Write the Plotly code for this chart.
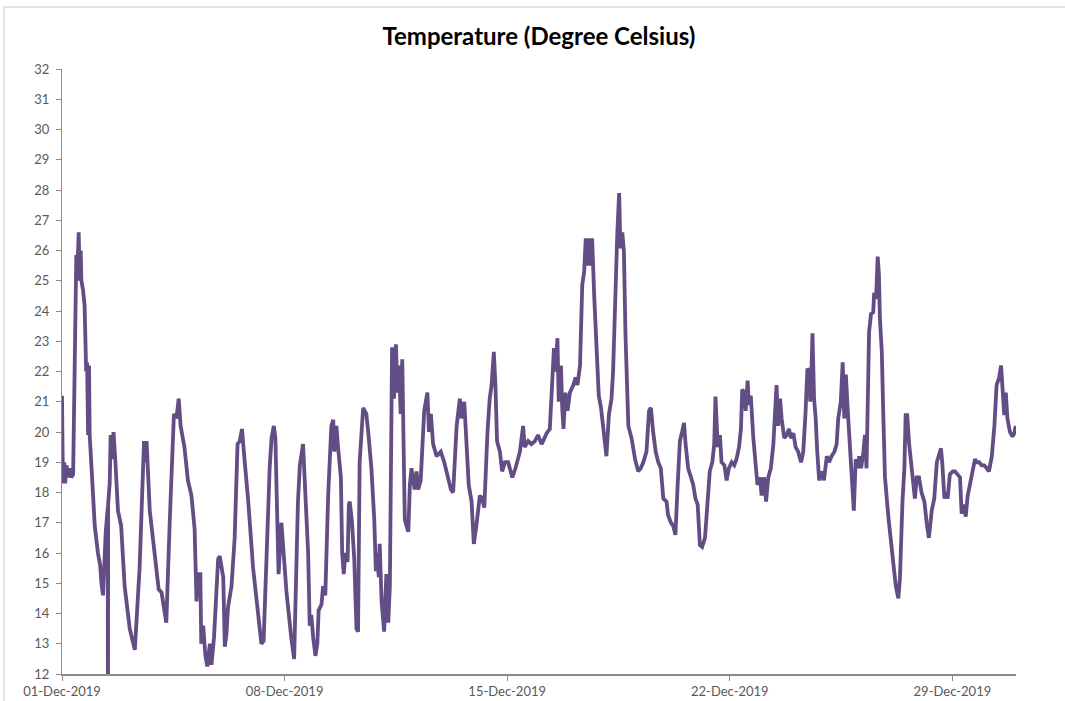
import pandas as pd
import plotly.graph_objects as go

# Readings: time offset in days from 01-Dec-2019 00:00, temperature in °C
START = "2019-12-01"
DAY_OFFSET = [
    0.00, 0.03, 0.07, 0.10, 0.14, 0.19, 0.24, 0.29, 0.35, 0.40, 0.45, 0.48, 0.525, 0.556, 0.588,
    0.61, 0.66, 0.71, 0.76, 0.79, 0.82, 0.85, 0.87, 0.93, 1.03, 1.13, 1.20, 1.24, 1.29, 1.375,
    1.44, 1.445, 1.45, 1.50, 1.53, 1.57, 1.62, 1.68, 1.76, 1.86, 1.97, 2.13, 2.29, 2.44, 2.52,
    2.58, 2.62, 2.66, 2.76, 2.86, 2.92, 3.04, 3.13, 3.28, 3.39, 3.52, 3.60, 3.67, 3.73, 3.85,
    3.96, 4.07, 4.17, 4.23, 4.28, 4.35, 4.38, 4.44, 4.51, 4.57, 4.65, 4.70, 4.78, 4.91, 4.96,
    5.01, 5.07, 5.12, 5.17, 5.22, 5.33, 5.43, 5.52, 5.59, 5.66, 5.73, 5.85, 6.01, 6.17, 6.27,
    6.34, 6.43, 6.53, 6.59, 6.66, 6.71, 6.77, 6.81, 6.90, 6.95, 7.06, 7.21, 7.30,
    7.42, 7.48, 7.58, 7.63, 7.74, 7.79, 7.84, 7.90, 7.97, 8.03, 8.07, 8.16, 8.21, 8.28, 8.37,
    8.47, 8.53, 8.56, 8.63, 8.68, 8.77, 8.81, 8.86, 8.91, 8.98, 9.02, 9.05, 9.12, 9.19, 9.26,
    9.31, 9.36, 9.47, 9.52, 9.57, 9.63, 9.73, 9.82, 9.87, 9.92, 9.96, 9.99, 10.05, 10.13, 10.20,
    10.26, 10.31, 10.38, 10.44, 10.50, 10.55, 10.60, 10.65, 10.70, 10.73, 10.78, 10.89, 10.94,
    10.99, 11.04, 11.09, 11.15, 11.20, 11.28, 11.39, 11.49, 11.54, 11.60, 11.67, 11.78, 11.91,
    12.02, 12.12, 12.23, 12.30, 12.41, 12.51, 12.56, 12.65, 12.72, 12.79, 12.88, 12.95, 13.03,
    13.14, 13.21, 13.28, 13.38, 13.45, 13.51, 13.58, 13.63, 13.68, 13.77, 13.84, 13.93, 14.03,
    14.16, 14.26, 14.40, 14.50, 14.55, 14.66, 14.76,
    14.87, 14.97, 15.08, 15.13, 15.24, 15.34, 15.42, 15.47, 15.52, 15.58, 15.62, 15.69, 15.73,
    15.77, 15.83, 15.90, 15.97, 16.08, 16.15, 16.21, 16.29, 16.36, 16.42, 16.47, 16.53, 16.58,
    16.63, 16.67, 16.74, 16.81, 16.88, 16.95, 17.02, 17.12, 17.20, 17.28, 17.33, 17.41, 17.46,
    17.52, 17.56, 17.62, 17.67, 17.72, 17.81, 17.91, 18.02, 18.12, 18.20, 18.28, 18.38, 18.46,
    18.52, 18.59, 18.67, 18.75, 18.83, 18.91, 19.01, 19.06, 19.15, 19.22, 19.29, 19.36, 19.43,
    19.50, 19.56, 19.61, 19.69, 19.78, 19.85, 19.92, 19.99, 20.06, 20.13, 20.22, 20.30, 20.37,
    20.45, 20.51, 20.55, 20.62, 20.69, 20.74, 20.83, 20.90, 20.97, 21.06, 21.14, 21.21, 21.29,
    21.35, 21.39, 21.46, 21.50, 21.56, 21.60, 21.66, 21.74, 21.81, 21.87, 21.95, 22.00, 22.08,
    22.14, 22.21, 22.29, 22.37,
    22.47, 22.52, 22.58, 22.63, 22.71, 22.79, 22.86, 22.92, 23.00, 23.07, 23.15, 23.24, 23.31,
    23.38, 23.44, 23.50, 23.53, 23.57, 23.60, 23.65, 23.70, 23.75, 23.81, 23.89, 23.96, 24.05,
    24.12, 24.20, 24.29, 24.36, 24.41, 24.49, 24.55, 24.60, 24.65, 24.71, 24.76, 24.81, 24.86,
    24.90, 24.96, 25.02, 25.07, 25.13, 25.20, 25.25, 25.30, 25.38, 25.44, 25.51, 25.54, 25.60,
    25.65, 25.69, 25.72, 25.78, 25.83, 25.88, 25.99, 26.07, 26.14, 26.22, 26.30, 26.35, 26.43,
    26.49, 26.53, 26.58, 26.64, 26.70, 26.75, 26.82, 26.88, 26.95, 27.03, 27.12, 27.19, 27.26,
    27.35, 27.43, 27.51, 27.58, 27.64, 27.68, 27.75, 27.79, 27.85, 27.92, 28.01, 28.08, 28.17,
    28.24, 28.29, 28.34, 28.42, 28.48, 28.55, 28.61, 28.66, 28.71, 28.76, 28.84, 28.92, 29.00,
    29.08, 29.15, 29.24, 29.32, 29.39, 29.47, 29.53, 29.58, 29.63, 29.68, 29.73, 29.81, 29.89,
    29.95, 29.99,
]
TEMP_C = [
    21.2, 18.3, 19.0, 18.3, 18.9, 18.5, 18.8, 18.5, 18.6, 22.0, 25.85, 25.2, 26.6, 25.0, 26.0,
    25.0, 24.7, 24.2, 22.0, 22.3, 19.9, 22.2, 19.9, 18.8, 16.9, 16.0, 15.6, 15.0, 14.6, 16.7,
    17.5, 0.0, 17.6, 18.3, 19.9, 19.1, 20.0, 19.0, 17.4, 16.9, 14.9, 13.5, 12.8, 15.5, 18.5,
    19.7, 19.0, 19.7, 17.4, 16.4, 16.0, 14.8, 14.7, 13.7, 17.1, 20.6, 20.45, 21.1, 20.2, 19.5,
    18.4, 17.9, 16.8, 14.4, 15.3, 15.3, 13.0, 13.6, 12.6, 12.25, 13.0, 12.3, 13.2, 15.8, 15.9,
    15.5, 15.2, 12.9, 13.3, 14.2, 14.9, 16.5, 19.6, 19.7, 20.1, 19.2, 17.8, 15.5, 13.8, 13.0,
    13.1, 16.3, 18.8, 19.8, 20.2, 19.8, 17.7, 15.3, 17.0, 16.2, 14.7, 13.2, 12.5,
    17.7, 18.9, 19.6, 18.25, 16.0, 13.6, 13.95, 13.2, 12.6, 13.0, 14.1, 14.3, 14.9, 14.6, 17.9,
    20.2, 20.4, 19.35, 20.2, 19.5, 18.5, 16.0, 15.3, 16.0, 15.7, 17.6, 17.7, 17.0, 15.8, 13.5,
    13.4, 19.0, 20.8, 20.7, 20.6, 20.0, 18.8, 17.1, 15.4, 16.0, 15.2, 16.3, 14.4, 13.4, 15.3,
    13.7, 14.9, 22.8, 21.1, 22.9, 21.3, 22.2, 20.6, 22.4, 20.45, 17.1, 16.7, 18.25,
    18.8, 18.5, 18.1, 18.7, 18.1, 18.4, 20.7, 21.3, 20.0, 20.6, 19.6, 19.2, 19.35,
    19.0, 18.5, 18.1, 18.0, 20.2, 21.1, 20.45, 21.0, 19.6, 18.25, 17.7, 16.3, 16.9,
    17.9, 17.8, 17.5, 20.0, 21.1, 21.55, 22.65, 21.55, 19.7, 19.35, 18.7, 19.0, 19.0,
    18.5, 18.8, 19.35, 20.2, 19.5, 19.7, 19.6,
    19.7, 19.9, 19.6, 19.7, 19.96, 20.1, 21.55, 22.77, 22.0, 23.1, 21.0, 22.2, 20.8,
    20.1, 21.3, 20.7, 21.3, 21.55, 21.8, 21.55, 22.2, 24.86, 25.3, 26.4, 25.5, 26.4,
    25.5, 26.4, 24.4, 22.9, 21.2, 20.8, 20.2, 19.2, 20.6, 21.1, 22.0, 25.1, 26.5,
    27.9, 26.07, 26.6, 25.96, 23.2, 20.2, 19.8, 19.1, 18.7, 18.8, 19.0, 19.35, 20.7,
    20.8, 20.0, 19.35, 19.0, 18.8, 17.8, 17.7, 17.25, 17.0, 16.9, 16.6, 18.25, 19.7,
    20.0, 20.3, 19.6, 18.8, 18.5, 18.25, 17.8, 17.6, 16.26, 16.2, 16.5, 17.7, 18.7,
    19.0, 19.6, 21.17, 19.5, 19.9, 19.0, 18.9, 18.4, 18.8, 19.0, 18.9, 19.1, 19.5,
    20.1, 21.4, 21.3, 20.7, 21.7, 20.9, 21.2, 19.8, 18.9, 18.25, 18.5, 17.9, 18.5,
    17.7, 18.5, 18.8, 19.6,
    21.55, 20.2, 21.1, 20.45, 19.8, 19.9, 20.1, 19.8, 19.96, 19.5, 19.35, 19.0, 19.35,
    20.6, 22.1, 22.0, 21.0, 22.1, 23.26, 21.1, 20.45, 19.35, 18.4, 18.7, 18.4, 19.2,
    19.0, 19.2, 19.35, 19.6, 20.45, 21.0, 22.3, 20.45, 21.9, 20.7, 19.8, 18.8, 17.9,
    17.4, 19.1, 18.8, 19.2, 18.8, 19.35, 19.9, 18.8, 23.3, 23.9, 23.96, 24.6, 24.4,
    25.8, 25.2, 23.76, 22.65, 20.45, 18.5, 17.15, 16.26, 15.5, 14.9, 14.5, 15.16, 17.7,
    18.8, 20.56, 20.56, 19.6, 18.9, 18.36, 17.8, 18.5, 18.5, 18.0, 17.7, 17.0, 16.5,
    17.4, 17.8, 19.0, 19.2, 19.46, 19.0, 17.8, 18.0, 17.8, 18.6, 18.7, 18.7, 18.6,
    18.5, 17.3, 17.6, 17.2, 17.9, 18.25, 18.6, 18.8, 19.1, 19.0, 19.0, 18.9, 18.9,
    18.8, 18.7, 19.2, 20.2, 21.55, 21.8, 22.2, 21.3, 20.56, 21.3, 20.45, 20.0, 19.85,
    19.96, 20.2,
]
X_TICKS = ["2019-12-01", "2019-12-08", "2019-12-15", "2019-12-22", "2019-12-29"]
X_RANGE = ["2019-12-01", "2019-12-31"]
Y_RANGE = [12, 32]

times = pd.Timestamp(START) + pd.to_timedelta(DAY_OFFSET, unit="D")

LINE_COLOR = "#634d85"
AXIS_COLOR = "#8c8c8c"
TEXT_COLOR = "#595959"
FONT = "Lato, 'Open Sans', sans-serif"

fig = go.Figure(
    go.Scatter(
        x=times,
        y=TEMP_C,
        mode="lines",
        line=dict(color=LINE_COLOR, width=3.8),
        showlegend=False,
    )
)

fig.update_layout(
    width=1065,
    height=701,
    margin=dict(l=62, r=49, t=69, b=27, autoexpand=False),
    paper_bgcolor="white",
    plot_bgcolor="white",
    font=dict(family=FONT, color=TEXT_COLOR),
    title=dict(
        text="<b>Temperature (Degree Celsius)</b>",
        font=dict(family=FONT, size=24, color="#000000"),
        x=0.506,
        xanchor="center",
        xref="container",
        y=1 - 37 / 701,
        yanchor="middle",
        yref="container",
    ),
    shapes=[
        dict(
            type="rect",
            xref="paper",
            yref="paper",
            x0=(4 - 62) / 954,
            x1=(1075 - 62) / 954,
            y0=(674 - 712) / 605,
            y1=(674 - 7) / 605,
            line=dict(color="#c8c8c8", width=1),
            layer="below",
        )
    ],
)

fig.update_xaxes(
    range=X_RANGE,
    tickvals=X_TICKS,
    tickformat="%d-%b-%Y",
    ticks="outside",
    ticklen=5,
    tickcolor=AXIS_COLOR,
    showline=True,
    linecolor=AXIS_COLOR,
    linewidth=1.5,
    showgrid=False,
    zeroline=False,
    automargin=False,
    tickfont=dict(size=13, color=TEXT_COLOR),
)
fig.update_yaxes(
    range=Y_RANGE,
    dtick=1,
    tick0=12,
    ticks="outside",
    ticklen=5,
    tickcolor=AXIS_COLOR,
    showline=True,
    linecolor=AXIS_COLOR,
    linewidth=1,
    showgrid=False,
    zeroline=False,
    automargin=False,
    ticklabelstandoff=4,
    tickfont=dict(size=13, color=TEXT_COLOR),
)

fig.write_html("out.html")
